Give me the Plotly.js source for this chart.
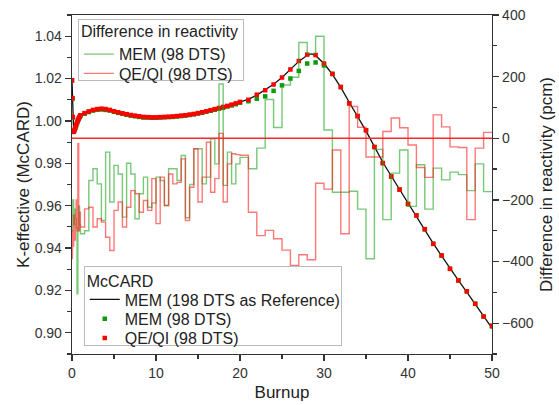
<!DOCTYPE html>
<html>
<head>
<meta charset="utf-8">
<script src="https://cdn.plot.ly/plotly-3.0.1.min.js"></script>
<style>html,body{margin:0;padding:0;background:#fff;}#chart{width:559px;height:405px;}</style>
</head>
<body>
<div id="chart"></div>
<script>
// Burnup points (98 DTS) used by markers and step lines
var burnup = [0, 0.05, 0.1, 0.2, 0.3, 0.4, 0.5, 0.6, 0.7, 0.8, 0.9,
  1, 1.5, 2, 2.5, 3, 3.5, 4, 4.5, 5, 5.5, 6, 6.5, 7, 7.5, 8, 8.5, 9, 9.5, 10,
  10.5, 11, 11.5, 12, 12.5, 13, 13.5, 14, 14.5, 15, 15.5, 16, 16.5, 17, 17.5, 18, 18.5, 19, 19.5, 20,
  21, 22, 23, 24, 25, 26, 27, 28, 29, 30, 31, 32, 33, 34, 35, 36, 37, 38, 39, 40,
  41, 42, 43, 44, 45, 46, 47, 48, 49, 50];

// K-effective, QE/QI (98 DTS)
var kQEQI = [1.0192, 1.0108, 1.0019, 0.9948, 0.9958, 0.9970, 0.9982, 0.9993, 1.0003, 1.0012, 1.0020,
  1.0027, 1.0037, 1.0045, 1.0052, 1.0056, 1.0058, 1.0056, 1.0052, 1.0046, 1.0041, 1.0036, 1.0032, 1.0028, 1.0025, 1.0022, 1.0019, 1.0018, 1.0017, 1.0017,
  1.0018, 1.0019, 1.0020, 1.0021, 1.0023, 1.0025, 1.0027, 1.0030, 1.0033, 1.0037, 1.0041, 1.0046, 1.0051, 1.0056, 1.0061, 1.0066, 1.0071, 1.0077, 1.0083, 1.0090,
  1.0100, 1.0124, 1.0145, 1.0172, 1.0205, 1.0243, 1.0283, 1.0313, 1.0311, 1.0271, 1.0222, 1.0160, 1.0083, 1.0023, 0.9956, 0.9877, 0.9801, 0.9738, 0.9676, 0.9608,
  0.9554, 0.9489, 0.9420, 0.9365, 0.9302, 0.9247, 0.9196, 0.9137, 0.9077, 0.9034];

// K-effective, MEM (98 DTS)
var kMEM = [1.0190, 1.0105, 1.0016, 0.9950, 0.9955, 0.9967, 0.9979, 0.9990, 1.0000, 1.0009, 1.0017,
  1.0024, 1.0034, 1.0042, 1.0049, 1.0053, 1.0054, 1.0052, 1.0049, 1.0043, 1.0038, 1.0034, 1.0029, 1.0025, 1.0022, 1.0019, 1.0016, 1.0016, 1.0015, 1.0015,
  1.0016, 1.0017, 1.0018, 1.0019, 1.0021, 1.0023, 1.0025, 1.0028, 1.0031, 1.0035, 1.0039, 1.0044, 1.0048, 1.0053, 1.0058, 1.0062, 1.0068, 1.0073, 1.0079, 1.0086,
  1.0093, 1.0105, 1.0116, 1.0142, 1.0168, 1.0200, 1.0236, 1.0271, 1.0276, 1.0262, 1.0222, 1.0160, 1.0083, 1.0023, 0.9956, 0.9877, 0.9801, 0.9738, 0.9676, 0.9608,
  0.9554, 0.9489, 0.9420, 0.9365, 0.9302, 0.9247, 0.9196, 0.9137, 0.9077, 0.9030];

// Reference McCARD MEM (198 DTS)
var refBurnup = [0, 0.05, 0.1, 0.2, 0.4, 0.7, 1, 2, 3, 4, 5, 6, 7, 8, 9, 10, 11, 12, 13, 14, 15, 16, 17, 18, 19, 20,
  21, 22, 23, 24, 25, 26, 27, 28, 28.5, 29, 30, 31, 32, 33, 34, 35, 36, 37, 38, 39, 40,
  41, 42, 43, 44, 45, 46, 47, 48, 49, 50];
var refK = [1.0192, 1.0108, 1.0019, 0.9948, 0.9970, 1.0003, 1.0027, 1.0045, 1.0056, 1.0056, 1.0046, 1.0036, 1.0028, 1.0022, 1.0018, 1.0017, 1.0019, 1.0021, 1.0025, 1.0030, 1.0037, 1.0046, 1.0056, 1.0066, 1.0077, 1.0090,
  1.0102, 1.0122, 1.0146, 1.0173, 1.0205, 1.0243, 1.0281, 1.0310, 1.0316, 1.0308, 1.0271, 1.0220, 1.0158, 1.0088, 1.0022, 0.9953, 0.9879, 0.9805, 0.9740, 0.9676, 0.9610,
  0.9550, 0.9487, 0.9422, 0.9363, 0.9302, 0.9247, 0.9192, 0.9137, 0.9079, 0.9022];

// Difference in reactivity (pcm), MEM (98 DTS), held from each burnup to the next
var drMEM = [-300, -250, -200, -280, -230, -260, -290, -505, -300, -220, -280,
  -310, -300, -137, -99, -148, -267, -45, -207, -88, -116, -256, -81, -116, -261, -180, -126, -224, -210, -126,
  -137, -218, -99, -99, -137, -56, -258, -150, -34, -34, -148, -126, -2, -83, 176, -153, -45, -148, -83, -62,
  -99, -32, 126, 35, 173, 198, 311, 274, 331, 27, -175, -175, -172, -230, -391, -36, -264, -113, -38, -221,
  -86, -230, -97, -135, -110, -118, -170, -83, -173, -173];

// Difference in reactivity (pcm), QE/QI (98 DTS)
var drQEQI = [-390, -300, -350, -250, -330, -280, -200, -300, -18, -300, -240,
  -288, -229, -224, -288, -261, -272, -321, -364, -234, -207, -288, -224, -170, -180, -240, -202, -234, -131, -277,
  -126, -218, -116, -148, -143, -67, -267, -159, -34, -207, -126, -13, -175, -131, 16, -207, -83, -50, -53, -55,
  -240, -316, -299, -326, -363, -413, -378, -394, -146, -165, -38, -310, 103, 36, -61, -61, 22, 66, 34, -22,
  -95, -127, 76, 37, -28, -30, -264, -32, 19, 19];

var axisColor = '#333';
var traces = [
  {x: burnup, y: drMEM, yaxis: 'y2', type: 'scatter', mode: 'lines', line: {shape: 'hv', color: 'rgba(30,165,30,0.6)', width: 1.4},
   name: 'MEM (98 DTS)', legend: 'legend'},
  {x: burnup, y: drQEQI, yaxis: 'y2', type: 'scatter', mode: 'lines', line: {shape: 'hv', color: 'rgba(255,30,30,0.6)', width: 1.4},
   name: 'QE/QI (98 DTS)', legend: 'legend'},
  {x: refBurnup, y: refK, type: 'scatter', mode: 'lines', line: {color: '#111', width: 1.3},
   name: 'MEM (198 DTS as Reference)', legend: 'legend2'},
  {x: burnup, y: kMEM, type: 'scatter', mode: 'markers', marker: {symbol: 'square', size: 4.5, color: '#0a9a0a'},
   name: 'MEM (98 DTS)', legend: 'legend2'},
  {x: burnup, y: kQEQI, type: 'scatter', mode: 'markers', marker: {symbol: 'square', size: 4.5, color: '#ff0000'},
   name: 'QE/QI (98 DTS)', legend: 'legend2'}
];

function axisBase() {
  return {showline: true, linecolor: axisColor, linewidth: 1.3, ticks: 'outside', ticklen: 6, tickwidth: 1.2,
    tickcolor: axisColor, showgrid: false, zeroline: false, tickfont: {size: 14, color: '#333'}};
}
var xa = axisBase();
Object.assign(xa, {range: [0, 50], dtick: 10, tick0: 0, mirror: true,
  minor: {dtick: 5, ticks: 'outside', ticklen: 3.5, tickwidth: 1.2, tickcolor: axisColor},
  title: {text: 'Burnup', font: {size: 17, color: '#222'}, standoff: 6}});
var ya = axisBase();
Object.assign(ya, {range: [0.89, 1.05], dtick: 0.02, tick0: 0.9, tickformat: '.2f',
  minor: {dtick: 0.01, ticks: 'outside', ticklen: 3.5, tickwidth: 1.2, tickcolor: axisColor},
  title: {text: 'K-effective (McCARD)', font: {size: 17, color: '#222'}, standoff: 0}});
var ya2 = axisBase();
Object.assign(ya2, {overlaying: 'y', side: 'right', range: [-700, 400], dtick: 200, tick0: 0,
  minor: {dtick: 100, ticks: 'outside', ticklen: 3.5, tickwidth: 1.2, tickcolor: axisColor},
  title: {text: 'Difference in reactivity (pcm)', font: {size: 17, color: '#222'}, standoff: 7}});

var layout = {
  width: 559, height: 405,
  margin: {l: 72, r: 67, t: 15, b: 51},
  paper_bgcolor: '#fff', plot_bgcolor: '#fff',
  font: {family: '"Liberation Sans", Arial, sans-serif', size: 14, color: '#222'},
  xaxis: xa, yaxis: ya, yaxis2: ya2,
  showlegend: true,
  shapes: [{type: 'line', xref: 'paper', x0: 0, x1: 1, yref: 'y2', y0: 0, y1: 0,
    line: {color: 'rgb(255,40,40)', width: 1.3}, layer: 'above'}],
  legend: {x: 0.014, y: 0.987, xanchor: 'left', yanchor: 'top', bgcolor: '#fff', bordercolor: '#bbb', borderwidth: 1,
    font: {size: 16, color: '#222'}, title: {text: 'Difference in reactivity', font: {size: 16, color: '#222'}},
    tracegroupgap: 0, itemwidth: 30},
  legend2: {x: 0.028, y: 0.2605, xanchor: 'left', yanchor: 'top', bgcolor: '#fff', bordercolor: '#bbb', borderwidth: 1,
    font: {size: 16, color: '#222'}, title: {text: 'McCARD', font: {size: 16, color: '#222'}},
    tracegroupgap: 0, itemwidth: 30}
};

// tighten the vertical spacing of legend rows to match the original figure
function compactLegend(gd, cls, step, titleShift, bottomPad, boxWidth) {
  var lg = gd.querySelector('g.' + cls);
  if (!lg) return;
  var bg = lg.querySelector('rect.bg');
  var title = lg.querySelector('text.legendtitletext');
  if (title) title.setAttribute('transform', 'translate(0,' + titleShift + ')');
  var items = lg.querySelectorAll('g.traces');
  var y0 = null;
  for (var i = 0; i < items.length; i++) {
    var m = /translate\(\s*([-\d.e]+)[ ,]+([-\d.e]+)\s*\)/.exec(items[i].getAttribute('transform') || '');
    if (!m) continue;
    if (y0 === null) y0 = parseFloat(m[2]) + titleShift;
    items[i].setAttribute('transform', 'translate(' + m[1] + ',' + (y0 + i * step) + ')');
  }
  if (bg && items.length) {
    var top = bg.getBoundingClientRect().top;
    var last = items[items.length - 1].getBoundingClientRect();
    var bottom = last.top + last.height / 2 + bottomPad;
    bg.setAttribute('height', Math.max(10, bottom - top));
    if (boxWidth) bg.setAttribute('width', boxWidth);
  }
}

Plotly.newPlot('chart', traces, layout, {displayModeBar: false, staticPlot: true}).then(function (gd) {
  try {
    compactLegend(gd, 'legend', 19.3, -4, 7, 165);
    compactLegend(gd, 'legend2', 19.3, -5, 8, 257);
  } catch (e) {}
});
</script>
</body>
</html>
